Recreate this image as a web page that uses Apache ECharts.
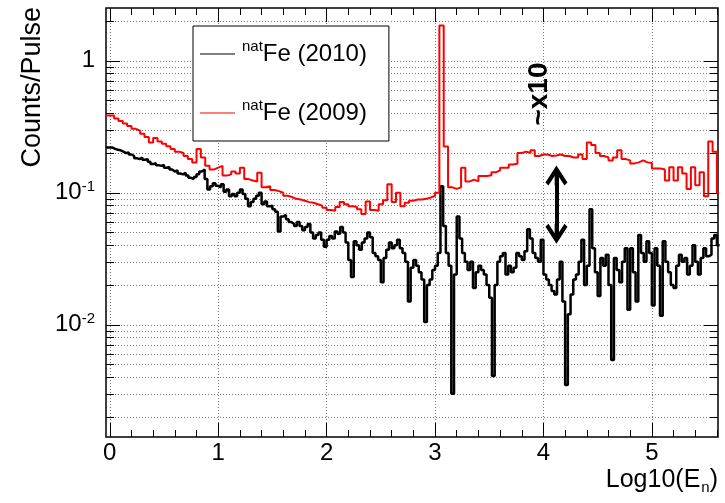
<!DOCTYPE html>
<html>
<head>
<meta charset="utf-8">
<script src="https://cdn.jsdelivr.net/npm/echarts@6/dist/echarts.min.js"></script>
<style>
  html, body { margin: 0; padding: 0; background: #fff; }
  #chart { width: 725px; height: 503px; }
</style>
</head>
<body>
<div id="chart"></div>
<script>
// histogram bin widths in Log10(En)
const bin2010 = 0.025;
const bin2009 = 0.04;

// natFe (2010), counts/pulse per bin, bins start at 0
const counts2010 = [
  0.22, 0.215, 0.212, 0.21, 0.205, 0.2, 0.202, 0.195, 0.19, 0.183,
  0.18, 0.185, 0.178, 0.18, 0.172, 0.165, 0.168, 0.162, 0.16, 0.163,
  0.155, 0.157, 0.15, 0.145, 0.148, 0.14, 0.138, 0.142, 0.135, 0.13,
  0.127, 0.132, 0.138, 0.145, 0.15, 0.127, 0.106, 0.112, 0.118, 0.113,
  0.11, 0.116, 0.102, 0.106, 0.094, 0.098, 0.094, 0.1, 0.106, 0.098,
  0.09, 0.079, 0.085, 0.09, 0.095, 0.1, 0.082, 0.086, 0.079, 0.08,
  0.075, 0.072, 0.051, 0.066, 0.068, 0.063, 0.06, 0.058, 0.056, 0.06,
  0.056, 0.052, 0.055, 0.058, 0.05, 0.045, 0.048, 0.05, 0.044, 0.039,
  0.044, 0.047, 0.045, 0.051, 0.049, 0.055, 0.05, 0.042, 0.031, 0.023,
  0.043, 0.04, 0.037, 0.042, 0.045, 0.05, 0.046, 0.035, 0.033, 0.031,
  0.021, 0.032, 0.037, 0.042, 0.038, 0.04, 0.044, 0.038, 0.035, 0.03,
  0.015, 0.027, 0.031, 0.028, 0.025, 0.022, 0.0105, 0.02, 0.022, 0.026,
  0.028, 0.035, 0.112, 0.056, 0.035, 0.028, 0.003, 0.024, 0.066, 0.045,
  0.035, 0.03, 0.026, 0.03, 0.019, 0.025, 0.028, 0.026, 0.024, 0.02,
  0.016, 0.0041, 0.02, 0.03, 0.033, 0.035, 0.024, 0.028, 0.025, 0.027,
  0.035, 0.033, 0.031, 0.036, 0.053, 0.045, 0.035, 0.032, 0.03, 0.044,
  0.024, 0.022, 0.02, 0.018, 0.017, 0.022, 0.03, 0.015, 0.0035, 0.012,
  0.017, 0.022, 0.024, 0.03, 0.044, 0.02, 0.028, 0.075, 0.038, 0.025,
  0.0165, 0.032, 0.028, 0.034, 0.02, 0.0054, 0.032, 0.026, 0.021, 0.03,
  0.038, 0.013, 0.038, 0.025, 0.015, 0.048, 0.035, 0.03, 0.043, 0.035,
  0.014, 0.038, 0.028, 0.0117, 0.043, 0.03, 0.025, 0.02, 0.019, 0.028,
  0.034, 0.03, 0.032, 0.024, 0.028, 0.04, 0.03, 0.024, 0.032, 0.038,
  0.033, 0.034, 0.045, 0.048, 0.04
];

// natFe (2009)
const counts2009 = [
  0.385, 0.365, 0.35, 0.335, 0.32, 0.305, 0.295, 0.28, 0.265, 0.24,
  0.26, 0.245, 0.235, 0.225, 0.215, 0.205, 0.2, 0.19, 0.18, 0.17,
  0.215, 0.185, 0.16, 0.15, 0.155, 0.16, 0.135, 0.138, 0.145, 0.14,
  0.155, 0.127, 0.124, 0.122, 0.142, 0.11, 0.112, 0.105, 0.103, 0.1,
  0.095, 0.093, 0.09, 0.089, 0.087, 0.085, 0.084, 0.082, 0.08, 0.077,
  0.074, 0.073, 0.078, 0.085, 0.082, 0.079, 0.078, 0.075, 0.069, 0.086,
  0.074, 0.073, 0.082, 0.088, 0.116, 0.085, 0.1, 0.079, 0.084, 0.087,
  0.089, 0.089, 0.09, 0.092, 0.095, 0.1, 1.85, 0.224, 0.11, 0.107,
  0.11, 0.155, 0.122, 0.126, 0.122, 0.134, 0.134, 0.136, 0.143, 0.148,
  0.155, 0.155, 0.164, 0.166, 0.2, 0.205, 0.2, 0.21, 0.19, 0.195,
  0.195, 0.19, 0.192, 0.195, 0.19, 0.19, 0.185, 0.185, 0.195, 0.18,
  0.24, 0.23, 0.2, 0.19, 0.185, 0.176, 0.185, 0.21, 0.18, 0.176,
  0.167, 0.17, 0.176, 0.17, 0.168, 0.153, 0.153, 0.15, 0.124, 0.156,
  0.124, 0.156, 0.14, 0.107, 0.156, 0.114, 0.143, 0.094, 0.245, 0.205,
  0.1
];

const seriesNames = ['Fe (2010)', 'Fe (2009)'];
const xTickLabels = [0, 1, 2, 3, 4, 5];
const yDecades = [-2, -1, 0]; // labelled powers of ten

// axis range
const X_MIN = -0.035, X_MAX = 5.61;
const Y_MIN = -2.85, Y_MAX = 0.4; // log10 of counts/pulse

// "~x10" note and the double arrow, in data units
const notePos = [3.96, 0.56];
const arrowX = 4.12, arrowTop = 0.135, arrowBottom = 0.049;

const FONT = '"Liberation Sans", Arial, Helvetica, sans-serif';

// step data: each bin drawn flat from its left edge to the next one
function histData(values, bin) {
  const pts = values.map((v, i) => [i === 0 ? X_MIN : i * bin, Math.log10(v)]);
  pts.push([values.length * bin, Math.log10(values[values.length - 1])]);
  return pts;
}

// tick positions
const xMinorTicks = [];
for (let i = 1; i <= 28; i++) {
  if (i % 5 !== 0) xMinorTicks.push(+(i * 0.2).toFixed(1));
}
const yAllTicks = [];
for (let e = -3; e <= 0; e++) {
  for (let k = 1; k <= 9; k++) {
    const v = e + Math.log10(k);
    if (v > Y_MIN && v < Y_MAX) yAllTicks.push(v);
  }
}

function tickAxis(position, ticks, len, isX) {
  return {
    type: 'value',
    position: position,
    min: isX ? X_MIN : Y_MIN,
    max: isX ? X_MAX : Y_MAX,
    axisLine: { show: false, onZero: false },
    axisTick: { show: true, inside: true, length: len, customValues: ticks, lineStyle: { color: '#000', width: 1 } },
    axisLabel: { show: false },
    splitLine: { show: false }
  };
}

const gridLine = { show: true, lineStyle: { color: '#777', width: 1, type: [1, 2] } };

const xMain = tickAxis('bottom', xTickLabels, 14, true);
xMain.axisLabel = {
  show: true, customValues: xTickLabels, margin: 4,
  color: '#000', fontSize: 24, fontFamily: FONT
};
xMain.splitLine = gridLine;
xMain.name = 'Log10(E{sub|n})';
xMain.nameLocation = 'end';
xMain.nameGap = 0;
xMain.nameMoveOverlap = false;
xMain.nameTextStyle = {
  align: 'right', verticalAlign: 'top', padding: [28, 0, 0, 0],
  color: '#000', fontFamily: FONT, fontSize: 25, lineHeight: 30,
  rich: { sub: { fontSize: 15, fontFamily: FONT, verticalAlign: 'bottom', lineHeight: 12, padding: [0, 0, 0, 1] } }
};

const yMain = tickAxis('left', yAllTicks, 8, false);
yMain.axisLabel = {
  show: true, customValues: yDecades, margin: 11, color: '#000', fontFamily: FONT,
  formatter: v => (Math.round(v) === 0 ? '{b|1}' : '{b|10}{s|' + Math.round(v) + '}'),
  rich: {
    b: { fontSize: 24, fontFamily: FONT, lineHeight: 26 },
    s: { fontSize: 15, fontFamily: FONT, verticalAlign: 'top', lineHeight: 15 }
  }
};
yMain.splitLine = gridLine;
yMain.name = 'Counts/Pulse';
yMain.nameLocation = 'end';
yMain.nameRotate = 90;
yMain.nameGap = 1;
yMain.nameMoveOverlap = false;
yMain.nameTextStyle = {
  align: 'right', verticalAlign: 'bottom', padding: [0, 0, 60, 0],
  color: '#000', fontFamily: FONT, fontSize: 27
};

const arrowHead = 'path://M11,0 L22,17 L19,20 L12.8,10.5 L12.8,20 L9.2,20 L9.2,10.5 L3,20 L0,17 Z';

const option = {
  animation: false,
  backgroundColor: '#fff',
  grid: {
    left: 106, right: 7, top: 8, bottom: 66,
    show: true, borderColor: '#000', borderWidth: 1.5,
    outerBoundsMode: 'none'
  },
  legend: {
    left: 193, top: 26, orient: 'vertical',
    padding: [13, 22, 16, 7],
    itemGap: 32, itemWidth: 35, itemHeight: 1,
    icon: 'rect',
    backgroundColor: '#fff', borderColor: '#000', borderWidth: 1,
    data: seriesNames,
    formatter: name => '{sup|nat}{fe|' + name + '}',
    textStyle: {
      color: '#000', fontFamily: FONT,
      rich: {
        sup: { fontSize: 15, fontFamily: FONT, verticalAlign: 'top', lineHeight: 16, padding: [0, 0, 0, 2] },
        fe: { fontSize: 24, fontFamily: FONT, lineHeight: 30 }
      }
    }
  },
  xAxis: [
    xMain,
    tickAxis('bottom', xMinorTicks, 7, true),
    tickAxis('top', xTickLabels, 14, true),
    tickAxis('top', xMinorTicks, 7, true)
  ],
  yAxis: [
    yMain,
    tickAxis('left', yDecades, 14, false),
    tickAxis('right', yAllTicks, 8, false),
    tickAxis('right', yDecades, 14, false)
  ],
  series: [
    {
      name: seriesNames[0],
      type: 'line',
      step: 'end',
      color: '#000',
      symbol: 'none',
      lineStyle: { width: 2.5, color: '#000' },
      data: histData(counts2010, bin2010),
      markPoint: {
        silent: true,
        symbol: 'circle', symbolSize: 1,
        itemStyle: { color: 'rgba(0,0,0,0)' },
        label: {
          show: true, position: 'inside', rotate: 90,
          formatter: '~x10', color: '#000', fontFamily: FONT, fontSize: 28, fontWeight: 'bold'
        },
        data: [{ coord: [notePos[0], Math.log10(notePos[1])] }]
      },
      markLine: {
        silent: true,
        symbol: [arrowHead, arrowHead],
        symbolSize: [22, 20],
        label: { show: false },
        lineStyle: { color: '#000', width: 4, type: 'solid' },
        data: [[
          { coord: [arrowX, Math.log10(arrowTop)] },
          { coord: [arrowX, Math.log10(arrowBottom)] }
        ]]
      }
    },
    {
      name: seriesNames[1],
      type: 'line',
      step: 'end',
      color: '#ff0000',
      symbol: 'none',
      lineStyle: { width: 2, color: '#ff0000' },
      data: histData(counts2009, bin2009)
    }
  ]
};

const chart = echarts.init(document.getElementById('chart'));
chart.setOption(option);
</script>
</body>
</html>
